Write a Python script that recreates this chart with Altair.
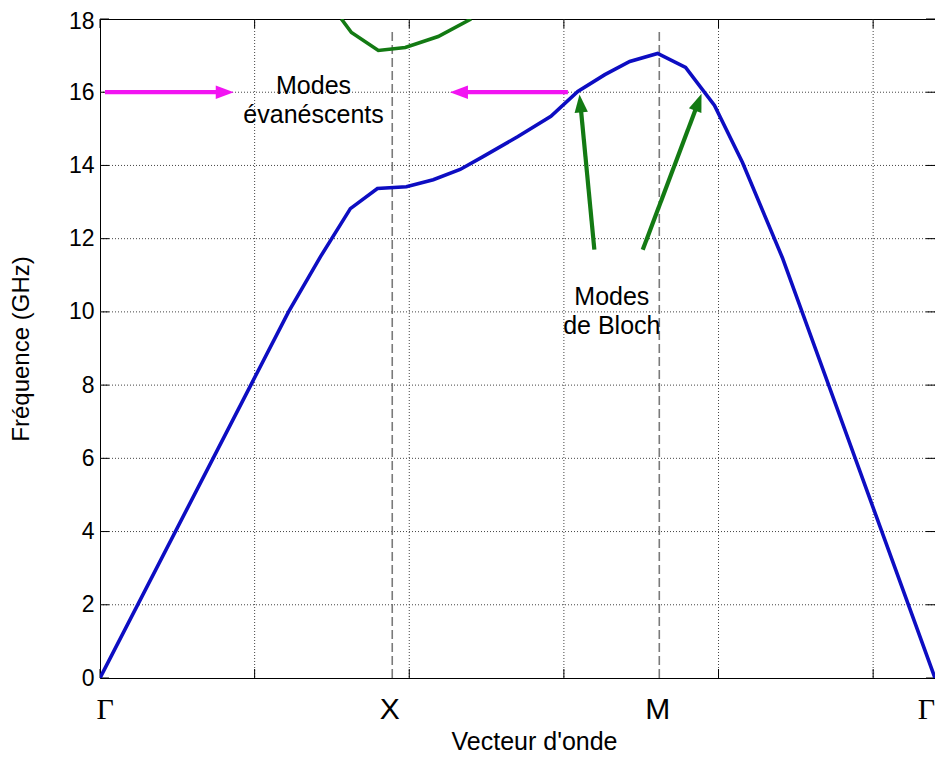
import math
import altair as alt
import pandas as pd

# ---------------- data ----------------
k_blue = [0.0, 1.219, 1.426, 1.619, 1.794, 1.981, 2.155, 2.329, 2.477, 2.703,
          2.916, 3.090, 3.265, 3.426, 3.606, 3.787, 3.974, 4.155, 4.413, 5.400]
f_blue = [0.0, 10.0, 11.51, 12.82, 13.37, 13.42, 13.61, 13.89, 14.24, 14.79,
          15.34, 16.02, 16.48, 16.84, 17.06, 16.68, 15.64, 14.08, 11.48, 0.0]

k_green = [1.561, 1.626, 1.800, 1.974, 2.187, 2.400]
f_green = [18.0, 17.63, 17.14, 17.22, 17.52, 18.0]

y_ticks = [0, 2, 4, 6, 8, 10, 12, 14, 16, 18]
x_ticks = [0, 1, 2, 3, 4, 5]
sym_pos = [0.03, 1.871, 3.603, 5.342]
sym_names = ["Γ", "X", "M", "Γ"]
sym_lines = [1.890, 3.617]
sym_line_top = 17.7

arrow_tail_k = [0.032, 3.026, 3.197, 3.510]
arrow_tail_f = [16.0, 16.0, 11.70, 11.70]
arrow_tip_k = [0.865, 2.263, 3.101, 3.890]
arrow_tip_f = [16.0, 16.0, 15.94, 15.96]
arrow_colors = ["#f214f2", "#f214f2", "#137a13", "#137a13"]

note_k = [1.381, 3.31]
note_f = [15.94, 10.2]
note_text = ["Modes\névanéscents", "Modes\nde Bloch"]

# ---------------- layout ----------------
W, H = 835, 659
XMAX, YMAX = 5.4, 18
PPK, PPF = W / XMAX, H / YMAX
HEAD = 18.0
FONT = "Liberation Sans"

xs = alt.Scale(domain=[0, XMAX], nice=False, zero=False)
ys = alt.Scale(domain=[0, YMAX], nice=False, zero=False)

# arrow geometry (pixel-direction based)
rows = []
for tk, tf, hk, hf, c in zip(arrow_tail_k, arrow_tail_f, arrow_tip_k, arrow_tip_f, arrow_colors):
    dxp = (hk - tk) * PPK
    dyp = -(hf - tf) * PPF
    ln = math.hypot(dxp, dyp)
    ux, uy = dxp / ln, dyp / ln
    ang = math.degrees(math.atan2(dxp, -dyp)) % 360
    bk = hk - ux * HEAD * 0.7 / PPK
    bf = hf + uy * HEAD * 0.7 / PPF
    rows.append(dict(tk=tk, tf=tf, hk=hk, hf=hf, bk=bk, bf=bf, ang=ang, c=c))
arrows = pd.DataFrame(rows)

blue = pd.DataFrame({"k": k_blue, "f": f_blue})
green = pd.DataFrame({"k": k_green, "f": f_green})
yt = pd.DataFrame({"v": y_ticks})
xt = pd.DataFrame({"v": x_ticks})
ygrid = pd.DataFrame({"v": y_ticks[1:-1]})
xgrid = pd.DataFrame({"v": x_ticks[1:]})
symdf = pd.DataFrame({"v": sym_lines})
notes = pd.DataFrame({"k": note_k, "f": note_f, "t": note_text})

label_expr = ("datum.value < 1 ? '%s' : datum.value < 3 ? '%s' : datum.value < 5 ? '%s' : '%s'"
              % tuple(sym_names))

x_axis = alt.Axis(values=sym_pos, labelExpr=label_expr, grid=False, ticks=False, domain=False,
                  labelFontSize=30, labelColor="black", labelFlush=False,
                  labelFont={"condition": {"test": "datum.value < 1 || datum.value > 5",
                                           "value": "Liberation Serif"}, "value": FONT},
                  labelBaseline="alphabetic", labelPadding=40, labelOverlap=False,
                  titleFont=FONT, titleFontSize=25,
                  titleFontWeight="normal", titleColor="black", titleX=434, titleY=71,
                  titleBaseline="alphabetic", titleAlign="center")
y_axis = alt.Axis(values=y_ticks, grid=False, ticks=False, domain=False,
                  labelFontSize=23, labelFont=FONT, labelColor="black", labelPadding=6,
                  labelOffset={"condition": {"test": "datum.value >= 18", "value": 2}, "value": 0},
                  labelFlush=False, labelOverlap=False,
                  titleFont=FONT, titleFontSize=24,
                  titleFontWeight="normal", titleColor="black", titleX=-79, titleY=H / 2,
                  titleAngle=270, titleBaseline="middle", titleAlign="center")
XT = "Vecteur d'onde"
YT = "Fréquence (GHz)"


def X(field):
    return alt.X(field, type="quantitative", scale=xs, axis=x_axis, title=XT)


def Y(field):
    return alt.Y(field, type="quantitative", scale=ys, axis=y_axis, title=YT)


grid_style = dict(color="#444", strokeWidth=1, strokeDash=[1, 2])

g_y = alt.Chart(ygrid).mark_rule(**grid_style).encode(y=Y("v"))
g_x = alt.Chart(xgrid).mark_rule(**grid_style).encode(x=X("v"))

TL = 9
tick_style = dict(color="black", strokeWidth=1)
t_left = alt.Chart(yt).mark_rule(**tick_style).encode(y=Y("v"), x=alt.value(0), x2=alt.value(TL))
t_right = alt.Chart(yt).mark_rule(**tick_style).encode(y=Y("v"), x=alt.value(W), x2=alt.value(W - TL))
t_bot = alt.Chart(xt).mark_rule(**tick_style).encode(x=X("v"), y=alt.value(H), y2=alt.value(H - TL))
t_top = alt.Chart(xt).mark_rule(**tick_style).encode(x=X("v"), y=alt.value(0), y2=alt.value(TL))

symdf["lo"] = 0.0
symdf["hi"] = sym_line_top
dashed = alt.Chart(symdf).mark_rule(color="#7a7a7a", strokeWidth=1.6, strokeDash=[9, 4]).encode(
    x=X("v"), y=Y("lo"), y2="hi:Q")

blue_line = alt.Chart(blue).mark_line(color="#0d0dc2", strokeWidth=3.6, clip=True).encode(
    x=X("k"), y=Y("f"), order=alt.Order("k:Q"))

green_line = alt.Chart(green).mark_line(color="#137a13", strokeWidth=3.6, clip=True).encode(
    x=X("k"), y=Y("f"), order=alt.Order("k:Q"))

shafts = alt.Chart(arrows).mark_rule(strokeWidth=4.2, strokeCap="butt").encode(
    x=X("tk"), y=Y("tf"), x2="bk:Q", y2="bf:Q", color=alt.Color("c:N", scale=None))

heads = alt.Chart(arrows).mark_point(
    shape="M0,0L0.37,1L-0.37,1Z", filled=True, opacity=1, size=4 * HEAD * HEAD, strokeWidth=0
).encode(
    x=X("hk"), y=Y("hf"),
    angle=alt.Angle("ang:Q", scale=None), color=alt.Color("c:N", scale=None))

texts = alt.Chart(notes).mark_text(
    font=FONT, fontSize=25, color="black", align="center", baseline="alphabetic",
    lineBreak="\n", lineHeight=29
).encode(x=X("k"), y=Y("f"), text="t:N")

chart = alt.layer(
    g_y, g_x, t_left, t_right, t_bot, t_top, dashed, green_line, blue_line,
    shafts, heads, texts
).properties(
    width=W, height=H,
    autosize=alt.AutoSizeParams(type="none"),
    padding={"left": 92, "top": 11, "right": 0, "bottom": 77},
    background="white",
).configure_view(stroke="black", strokeWidth=1)

chart.save("out.html", embed_options={"renderer": "svg", "actions": False})
